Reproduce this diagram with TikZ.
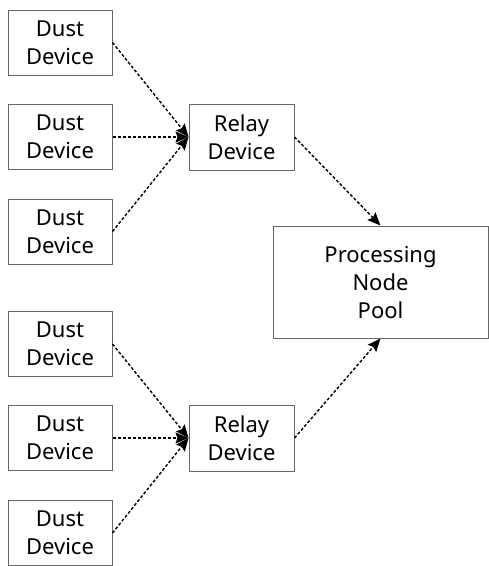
\documentclass[tikz,border=0pt]{standalone}
\usepackage{fontspec}
\setmainfont{Noto Sans}
\usetikzlibrary{arrows.meta}
\begin{document}
\begin{tikzpicture}[x=1pt,y=-1pt,
  box/.style={draw=black!60, line width=1pt, fill=white, align=center,
    inner sep=0pt, font=\fontsize{22}{28}\selectfont},
  dust/.style={box, minimum width=104pt, minimum height=65pt},
  relay/.style={box, minimum width=105pt, minimum height=66pt},
  pool/.style={box, minimum width=215pt, minimum height=112pt},
  link/.style={line width=1.4pt, dash pattern=on 3pt off 2pt,
    -{Stealth[length=13pt,width=11pt,inset=2pt]}}]
\useasboundingbox (0,0) rectangle (489,566);
% dust devices, two groups of three
\node[dust] (d1) at (60,42.5) {Dust\\Device};
\node[dust] (d2) at (60,137) {Dust\\Device};
\node[dust] (d3) at (60,231.5) {Dust\\Device};
\node[dust] (d4) at (60,344) {Dust\\Device};
\node[dust] (d5) at (60,438) {Dust\\Device};
\node[dust] (d6) at (60,533) {Dust\\Device};
% relays
\node[relay] (r1) at (241.5,137) {Relay\\Device};
\node[relay] (r2) at (241.5,438) {Relay\\Device};
% pool
\node[pool] (p) at (380.5,282) {Processing\\Node\\Pool};
% links
\foreach \d in {d1,d2,d3} \draw[link] (\d.east) -- (r1.west);
\foreach \d in {d4,d5,d6} \draw[link] (\d.east) -- (r2.west);
\draw[link] (r1.east) -- (p.north);
\draw[link] (r2.east) -- (p.south);
\end{tikzpicture}
\end{document}
